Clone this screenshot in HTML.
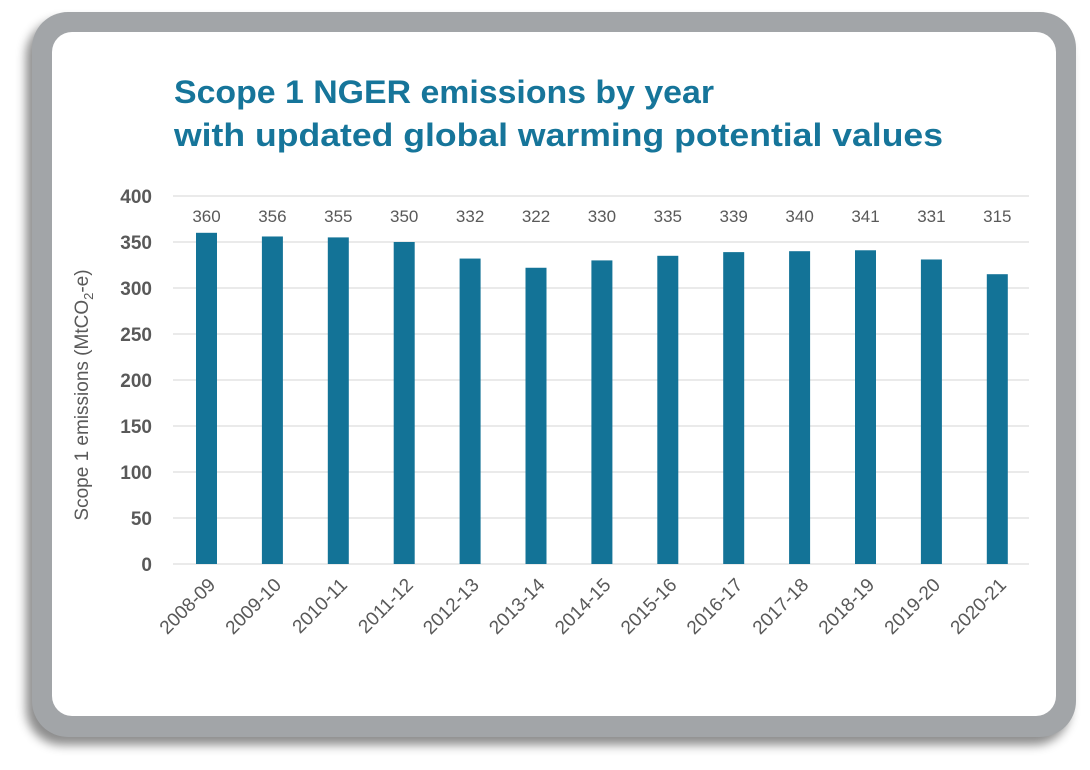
<!DOCTYPE html>
<html><head><style>
body{margin:0;width:1090px;height:770px;background:#fff;overflow:hidden;font-family:"Liberation Sans",sans-serif}
.outer{position:absolute;left:32px;top:12px;width:1044px;height:725px;background:#a2a5a8;border-radius:36px;box-shadow:-6px 8px 10px rgba(0,0,0,0.45)}
.inner{position:absolute;left:52px;top:32px;width:1004px;height:684px;background:#fff;border-radius:20px}
</style></head><body>
<div class="outer"></div><div class="inner"></div>
<svg width="1090" height="770" style="position:absolute;left:0;top:0">
<g font-family="Liberation Sans, sans-serif" font-weight="bold" font-size="32" fill="#16759a">
<text x="174" y="103" textLength="540" lengthAdjust="spacingAndGlyphs">Scope 1 NGER emissions by year</text>
<text x="174" y="146" textLength="769" lengthAdjust="spacingAndGlyphs">with updated global warming potential values</text>
</g>
<g stroke="#e3e3e3" stroke-width="1.5">
<line x1="173" x2="1029" y1="196" y2="196"/><line x1="173" x2="1029" y1="242" y2="242"/>
<line x1="173" x2="1029" y1="288" y2="288"/><line x1="173" x2="1029" y1="334" y2="334"/>
<line x1="173" x2="1029" y1="380" y2="380"/><line x1="173" x2="1029" y1="426" y2="426"/>
<line x1="173" x2="1029" y1="472" y2="472"/><line x1="173" x2="1029" y1="518" y2="518"/>
<line x1="173" x2="1029" y1="564" y2="564"/>
</g>
<g font-size="19" font-weight="bold" fill="#595959" text-anchor="end">
<text x="152" y="203">400</text><text x="152" y="249">350</text><text x="152" y="295">300</text>
<text x="152" y="341">250</text><text x="152" y="387">200</text><text x="152" y="433">150</text>
<text x="152" y="479">100</text><text x="152" y="525">50</text><text x="152" y="571">0</text>
</g>
<text transform="translate(88,395) rotate(-90)" text-anchor="middle" font-size="19" fill="#595959">Scope 1 emissions (MtCO<tspan font-size="13" dy="5">2</tspan><tspan dy="-5">-e)</tspan></text>
<g id="bars" fill="#137397"></g>
<g id="vals" font-size="17" fill="#595959" text-anchor="middle"></g>
<g id="xl" font-size="19" fill="#595959" text-anchor="end"></g>
</svg>
<script>
var v=[360,356,355,350,332,322,330,335,339,340,341,331,315];
var y=["2008-09","2009-10","2010-11","2011-12","2012-13","2013-14","2014-15","2015-16","2016-17","2017-18","2018-19","2019-20","2020-21"];
var ns="http://www.w3.org/2000/svg";
function el(t,a,p,txt){var e=document.createElementNS(ns,t);for(var k in a)e.setAttribute(k,a[k]);if(txt)e.textContent=txt;document.getElementById(p).appendChild(e);}
for(var i=0;i<13;i++){var cx=206.5+i*65.9;var h=v[i]*0.92;
el("rect",{x:cx-10.5,y:564-h,width:21,height:h},"bars");
el("text",{x:cx,y:222},"vals",String(v[i]));
el("text",{x:cx+10,y:586,transform:"rotate(-45 "+(cx+10)+" 586)"},"xl",y[i]);}
</script>
</body></html>
